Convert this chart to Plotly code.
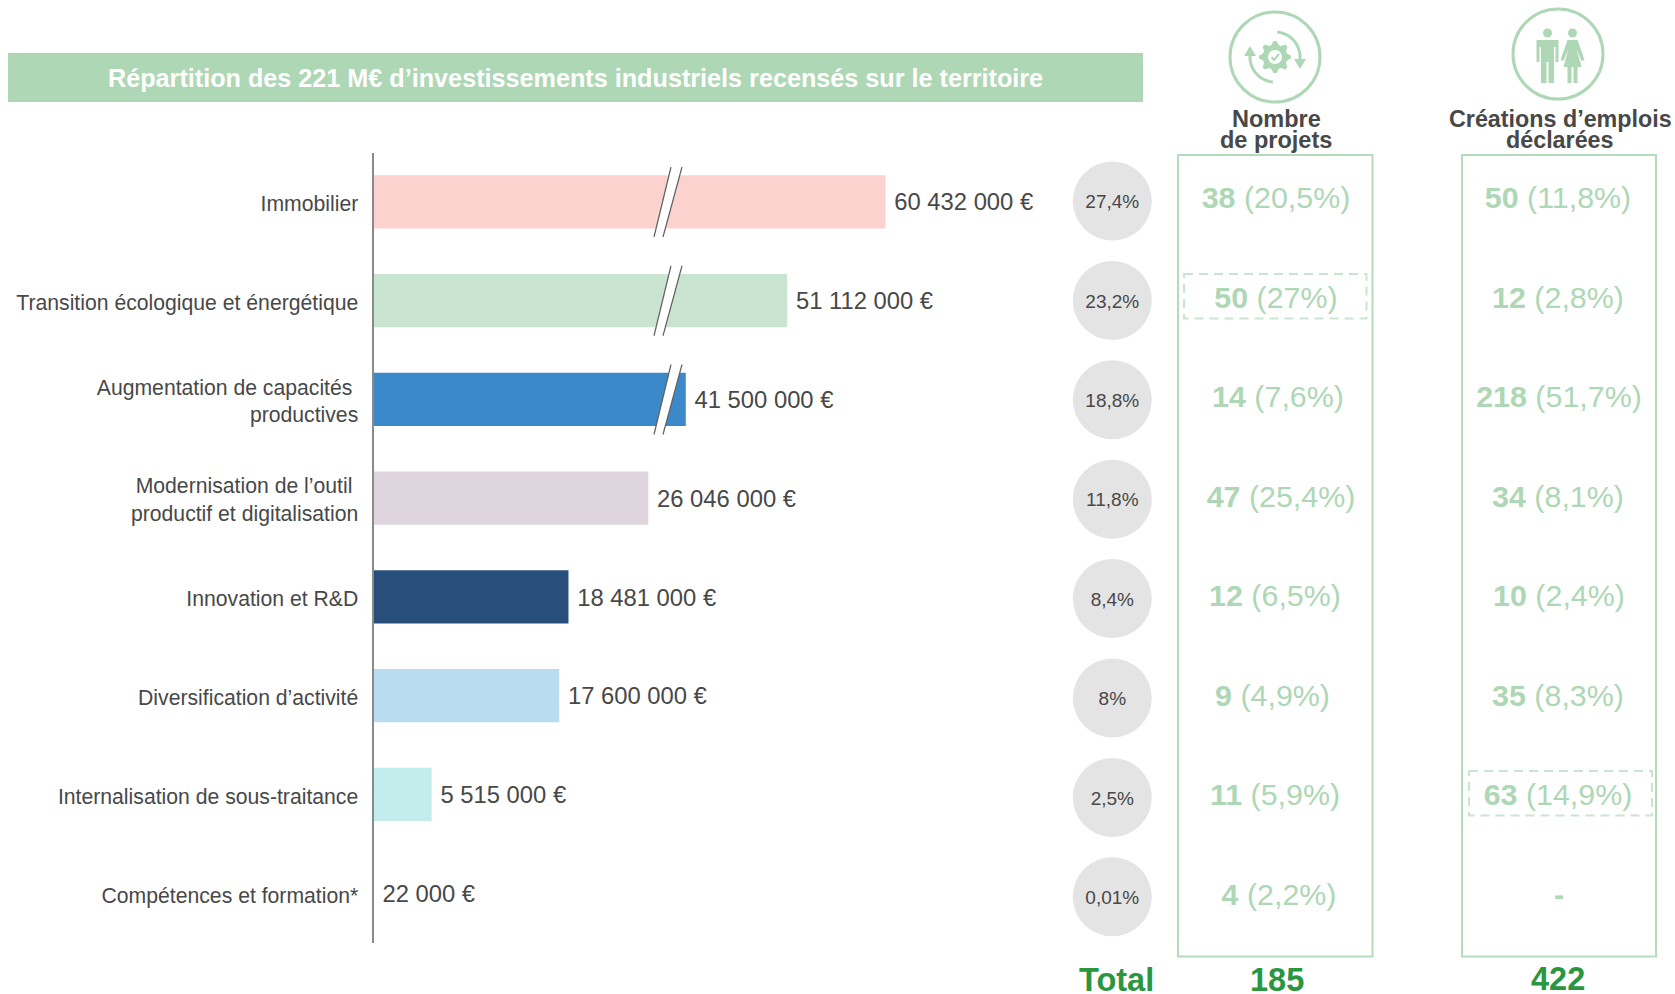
import math
import plotly.graph_objects as go

W, H = 1675, 994

# ---------- data ----------
categories = ["Immobilier", "Transition écologique et énergétique",
              "Augmentation de capacités\u00a0<br>productives",
              "Modernisation de l’outil\u00a0<br>productif et digitalisation",
              "Innovation et R&D", "Diversification d’activité",
              "Internalisation de sous-traitance", "Compétences et formation*"]
amounts = [60432000, 51112000, 41500000, 26046000, 18481000, 17600000, 5515000, 22000]
amount_labels = ["60 432 000 €", "51 112 000 €", "41 500 000 €", "26 046 000 €",
                 "18 481 000 €", "17 600 000 €", "5 515 000 €", "22 000 €"]
shares = ["27,4%", "23,2%", "18,8%", "11,8%", "8,4%", "8%", "2,5%", "0,01%"]
projects = ["38", "50", "14", "47", "12", "9", "11", "4"]
projects_pct = ["(20,5%)", "(27%)", "(7,6%)", "(25,4%)", "(6,5%)", "(4,9%)", "(5,9%)", "(2,2%)"]
jobs = ["50", "12", "218", "34", "10", "35", "63", "-"]
jobs_pct = ["(11,8%)", "(2,8%)", "(51,7%)", "(8,1%)", "(2,4%)", "(8,3%)", "(14,9%)", ""]
total_label = "Total"
total_projects = "185"
total_jobs = "422"
title = "Répartition des 221 M€ d’investissements industriels recensés sur le territoire"
header_projects = ["Nombre", "de projets"]
header_jobs = ["Créations d’emplois", "déclarées"]

# Broken axis: bars above the break are shortened by the amount removed from the scale
BREAK_THRESHOLD = 28000000
BREAK_REMOVED = 11900000

# ---------- style ----------
bar_colors = ["#FBD2CE", "#C9E5D1", "#3C89CA", "#DFD5DF", "#284F7B", "#B9DCF1", "#C3ECEC", "#FFFFFF"]
FONT = "Liberation Sans, Arial, sans-serif"
DARK = "#484848"
PALE = "#AED7B5"
BAND = "#AED7B5"
GREEN = "#2A963F"

plotted = [a - BREAK_REMOVED if a > BREAK_THRESHOLD else a for a in amounts]
rows = list(range(len(categories)))

AX_L, AX_T, AX_B = 373.5, 152.5, 942.5
PX_PER_UNIT = 10.55e-6
X_END = 1060
fig = go.Figure()

fig.add_trace(go.Bar(
    x=plotted, y=rows, orientation="h", width=0.54,
    marker=dict(color=bar_colors, line=dict(width=0)),
    hoverinfo="skip", xaxis="x", yaxis="y", showlegend=False))

fig.add_trace(go.Scatter(
    x=plotted, y=[i + 0.026 + 0.0005 * i for i in rows], mode="text",
    text=["\u2009\u200a\u200a" + t for t in amount_labels], textposition="middle right",
    textfont=dict(size=23.8, color=DARK, family=FONT), cliponaxis=False,
    hoverinfo="skip", xaxis="x", yaxis="y", showlegend=False))

# side panels live on a second pair of axes expressed in page pixels
col1_x = [1276, 1276, 1278, 1281, 1275, 1272.5, 1275, 1279]
col2_x = [1558, 1558, 1559, 1558, 1559, 1558, 1558, 1559]
circle_x = [1112.3] * 8
circle_y = [201 + 99.4 * i for i in rows]
text_y = [200.5 + 99.5 * i for i in rows]

fig.add_trace(go.Scatter(
    x=circle_x, y=circle_y, mode="markers",
    marker=dict(size=79, color="#E4E4E4", line=dict(width=0)),
    xaxis="x2", yaxis="y2", hoverinfo="skip", showlegend=False))
fig.add_trace(go.Scatter(
    x=circle_x, y=[y + 2.5 for y in circle_y], mode="text", text=shares,
    textfont=dict(size=19, color=DARK, family=FONT), textposition="middle center",
    xaxis="x2", yaxis="y2", hoverinfo="skip", showlegend=False))

fig.add_trace(go.Scatter(
    x=col1_x, y=text_y, mode="text",
    text=[f"<b>{n}</b> {p}" for n, p in zip(projects, projects_pct)],
    textfont=dict(size=30.4, color=PALE, family=FONT), textposition="middle center",
    xaxis="x2", yaxis="y2", hoverinfo="skip", showlegend=False))
fig.add_trace(go.Scatter(
    x=col2_x, y=text_y, mode="text",
    text=[f"<b>{n}</b> {p}".strip() for n, p in zip(jobs, jobs_pct)],
    textfont=dict(size=30.4, color=PALE, family=FONT), textposition="middle center",
    xaxis="x2", yaxis="y2", hoverinfo="skip", showlegend=False))

shapes, ann = [], []


def rect(x0, y0, x1, y1, **kw):
    shapes.append(dict(type="rect", xref="x2", yref="y2", x0=x0, y0=y0, x1=x1, y1=y1, **kw))


def path(d, fill=None, color=None, width=0, layer="above"):
    shapes.append(dict(type="path", xref="x2", yref="y2", path=d, layer=layer,
                       fillcolor=fill or "rgba(0,0,0,0)",
                       line=dict(color=color or "rgba(0,0,0,0)", width=width)))


def text(x, y, s, size, color, bold=False):
    ann.append(dict(xref="x2", yref="y2", x=x, y=y, text=f"<b>{s}</b>" if bold else s,
                    showarrow=False, xanchor="center", yanchor="middle",
                    font=dict(size=size, color=color, family=FONT)))


# title band
rect(8, 53, 1143, 102, fillcolor=BAND, line=dict(width=0), layer="below")
text(575, 78, title, 25.2, "#FFFFFF", True)

# panel boxes
BOX = "#B5DBBD"
rect(1178, 155, 1372.5, 956.5, line=dict(color=BOX, width=2))
rect(1462, 155, 1656, 956.5, line=dict(color=BOX, width=2))
DASH = "#C9E5CF"
rect(1184, 274, 1366.5, 318.5, line=dict(color=DASH, width=2, dash="9px,6px"))
rect(1469, 771, 1652, 815.5, line=dict(color=DASH, width=2, dash="9px,6px"))

# axis-break marks on shortened bars
for i, a in enumerate(amounts):
    if a > BREAK_THRESHOLD:
        yc = 202 + 98.75 * i
        yb, yt = yc + 35, yc - 35
        path(f"M654,{yb} L671,{yt} L682,{yt} L663,{yb} Z", fill="#FFFFFF")
        path(f"M654,{yb} L671,{yt}", color="#606060", width=1.2)
        path(f"M663,{yb} L682,{yt}", color="#606060", width=1.2)

# headers and totals
text(1276, 119, header_projects[0], 23.5, DARK, True)
text(1276, 140, header_projects[1], 23.5, DARK, True)
text(1560, 119, header_jobs[0], 23.3, DARK, True)
text(1560, 140, header_jobs[1], 23.3, DARK, True)
text(1116, 980, total_label, 32.5, GREEN, True)
text(1277, 980, total_projects, 32.5, GREEN, True)
text(1558, 979, total_jobs, 32.5, GREEN, True)


# ---------- icons (decoration) ----------
def circle_shape(cx, cy, r, **kw):
    shapes.append(dict(type="circle", xref="x2", yref="y2", x0=cx - r, x1=cx + r,
                       y0=cy - r, y1=cy + r, **kw))


def gear(cx, cy, r_out, r_in, teeth):
    pts = []
    n = teeth * 4
    for k in range(n):
        r = r_out if k % 4 in (0, 1) else r_in
        a = 2 * math.pi * (k - 0.5) / n
        pts.append((cx + r * math.cos(a), cy + r * math.sin(a)))
    return "M" + " L".join(f"{x:.1f},{y:.1f}" for x, y in pts) + " Z"


def arc(cx, cy, r, a0, a1):
    n = 24
    pts = []
    for k in range(n + 1):
        a = math.radians(a0 + (a1 - a0) * k / n)
        pts.append((cx + r * math.cos(a), cy + r * math.sin(a)))
    return "M" + " L".join(f"{x:.1f},{y:.1f}" for x, y in pts)


cx, cy = 1275, 57
circle_shape(cx, cy, 45, line=dict(color=PALE, width=3))
path(gear(cx, cy, 16, 12.5, 8), fill=PALE)
circle_shape(cx, cy, 7, fillcolor="#FFFFFF", line=dict(width=0))
path(f"M{cx-3.5},{cy} L{cx-1},{cy+3} L{cx+4},{cy-3}", color=PALE, width=2)
path(arc(cx, cy, 25, -85, 5), color=PALE, width=3)
path(arc(cx, cy, 25, 95, 185), color=PALE, width=3)
path(f"M{cx+19},{cy+2} L{cx+31},{cy+2} L{cx+25},{cy+12} Z", fill=PALE)
path(f"M{cx-31},{cy-1} L{cx-19},{cy-1} L{cx-25},{cy-11} Z", fill=PALE)

cx, cy = 1558, 53
circle_shape(cx, cy + 1, 45, line=dict(color=PALE, width=3))
mx, wx = cx - 10.5, cx + 14.5
# man
circle_shape(mx, cy - 20, 4.5, fillcolor=PALE, line=dict(width=0))
path(f"M{mx-11},{cy-13} L{mx+11},{cy-13} L{mx+11},{cy+9} L{mx+8},{cy+9} L{mx+8},{cy-6} L{mx+6.5},{cy-6} "
     f"L{mx+6.5},{cy+30} L{mx+1},{cy+30} L{mx+1},{cy+9} L{mx-1},{cy+9} L{mx-1},{cy+30} L{mx-6.5},{cy+30} "
     f"L{mx-6.5},{cy-6} L{mx-8},{cy-6} L{mx-8},{cy+9} L{mx-11},{cy+9} Z", fill=PALE)
# woman
circle_shape(wx, cy - 20, 4.5, fillcolor=PALE, line=dict(width=0))
path(f"M{wx-5},{cy-13} L{wx+5},{cy-13} L{wx+12},{cy+7} L{wx+9},{cy+8} L{wx+4},{cy-4} L{wx+9},{cy+14} "
     f"L{wx+5},{cy+14} L{wx+5},{cy+30} L{wx+1},{cy+30} L{wx+1},{cy+14} L{wx-1},{cy+14} L{wx-1},{cy+30} "
     f"L{wx-5},{cy+30} L{wx-5},{cy+14} L{wx-9},{cy+14} L{wx-4},{cy-4} L{wx-9},{cy+8} L{wx-12},{cy+7} Z", fill=PALE)

fig.update_layout(
    width=W, height=H, margin=dict(l=0, r=0, t=0, b=0), autosize=False,
    paper_bgcolor="#FFFFFF", plot_bgcolor="rgba(0,0,0,0)", font=dict(family=FONT, color=DARK),
    shapes=shapes, annotations=ann, showlegend=False, hovermode=False,
    xaxis=dict(domain=[AX_L / W, X_END / W], range=[0, (X_END - AX_L) / PX_PER_UNIT],
               visible=False, fixedrange=True, anchor="y"),
    yaxis=dict(domain=[1 - AX_B / H, 1 - AX_T / H], range=[7.5, -0.5], tickmode="array",
               tickvals=[i + 0.014 + 0.001 * i for i in rows], ticktext=categories,
               showline=True, linecolor="#8A8A8A", linewidth=2,
               ticks="", showgrid=False, zeroline=False, ticklabelstandoff=9, anchor="x",
               tickfont=dict(size=21.2, color=DARK, family=FONT), fixedrange=True),
    xaxis2=dict(domain=[0, 1], range=[0, W], visible=False, anchor="y2", fixedrange=True),
    yaxis2=dict(domain=[0, 1], range=[H, 0], visible=False, anchor="x2", fixedrange=True),
)

fig.write_html("out.html", config=dict(displayModeBar=False),
               post_script="document.body.style.margin='0';document.body.style.overflow='hidden';")
